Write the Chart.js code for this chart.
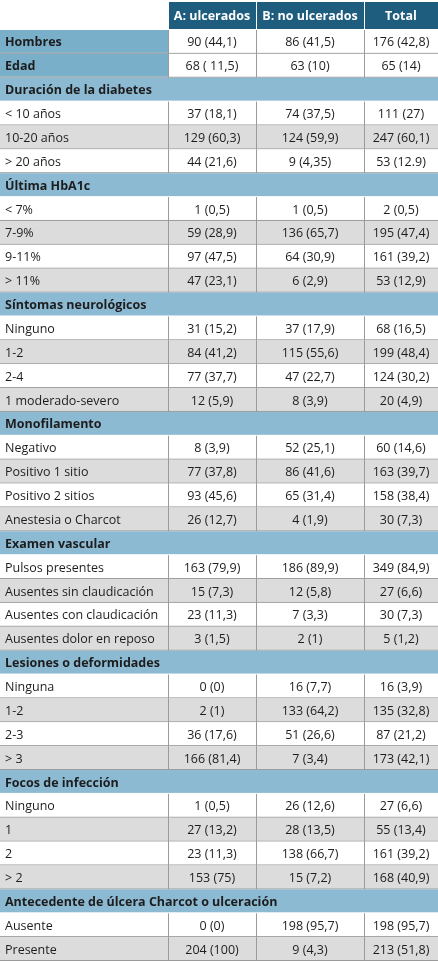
<!DOCTYPE html>
<html><head><meta charset="utf-8">
<script src="https://cdn.jsdelivr.net/npm/chart.js@4"></script>
<style>html,body{margin:0;padding:0;background:#fff}#wrap{width:438px;height:961px}</style>
</head><body><div id="wrap"><canvas id="tabla"></canvas></div>
<script>
// en-têtes de colonnes
const columnas = ["A: ulcerados", "B: no ulcerados", "Total"];
// libellés des lignes ("s" = section, "h" = ligne simple en gras)
const filas = ["Hombres", "Edad", "Duración de la diabetes", "< 10 años", "10-20 años", "> 20 años",
  "Última HbA1c", "< 7%", "7-9%", "9-11%", "> 11%",
  "Síntomas neurológicos", "Ninguno", "1-2", "2-4", "1 moderado-severo",
  "Monofilamento", "Negativo", "Positivo 1 sitio", "Positivo 2 sitios", "Anestesia o Charcot",
  "Examen vascular", "Pulsos presentes", "Ausentes sin claudicación", "Ausentes con claudicación", "Ausentes dolor en reposo",
  "Lesiones o deformidades", "Ninguna", "1-2", "2-3", "> 3",
  "Focos de infección", "Ninguno", "1", "2", "> 2",
  "Antecedente de úlcera Charcot o ulceración", "Ausente", "Presente"];
const tipos = ["h", "h", "s", "", "", "", "s", "", "", "", "", "s", "", "", "", "", "s", "", "", "", "",
  "s", "", "", "", "", "s", "", "", "", "", "s", "", "", "", "", "s", "", ""];
const valoresA = ["90 (44,1)", "68 ( 11,5)", "", "37 (18,1)", "129 (60,3)", "44 (21,6)", "", "1 (0,5)", "59 (28,9)", "97 (47,5)", "47 (23,1)",
  "", "31 (15,2)", "84 (41,2)", "77 (37,7)", "12 (5,9)", "", "8 (3,9)", "77 (37,8)", "93 (45,6)", "26 (12,7)",
  "", "163 (79,9)", "15 (7,3)", "23 (11,3)", "3 (1,5)", "", "0 (0)", "2 (1)", "36 (17,6)", "166 (81,4)",
  "", "1 (0,5)", "27 (13,2)", "23 (11,3)", "153 (75)", "", "0 (0)", "204 (100)"];
const valoresB = ["86 (41,5)", "63 (10)", "", "74 (37,5)", "124 (59,9)", "9 (4,35)", "", "1 (0,5)", "136 (65,7)", "64 (30,9)", "6 (2,9)",
  "", "37 (17,9)", "115 (55,6)", "47 (22,7)", "8 (3,9)", "", "52 (25,1)", "86 (41,6)", "65 (31,4)", "4 (1,9)",
  "", "186 (89,9)", "12 (5,8)", "7 (3,3)", "2 (1)", "", "16 (7,7)", "133 (64,2)", "51 (26,6)", "7 (3,4)",
  "", "26 (12,6)", "28 (13,5)", "138 (66,7)", "15 (7,2)", "", "198 (95,7)", "9 (4,3)"];
const valoresTotal = ["176 (42,8)", "65 (14)", "", "111 (27)", "247 (60,1)", "53 (12.9)", "", "2 (0,5)", "195 (47,4)", "161 (39,2)", "53 (12,9)",
  "", "68 (16,5)", "199 (48,4)", "124 (30,2)", "20 (4,9)", "", "60 (14,6)", "163 (39,7)", "158 (38,4)", "30 (7,3)",
  "", "349 (84,9)", "27 (6,6)", "30 (7,3)", "5 (1,2)", "", "16 (3,9)", "135 (32,8)", "87 (21,2)", "173 (42,1)",
  "", "27 (6,6)", "55 (13,4)", "161 (39,2)", "168 (40,9)", "", "198 (95,7)", "213 (51,8)"];
// bords des colonnes, en unités de l'axe x
const bordes = [0, 168, 256, 364, 438];

const dibujarTabla = {
  id: "tabla",
  afterDraw(chart) {
    const ctx = chart.ctx, x = chart.scales.x, y = chart.scales.y;
    const px = v => x.getPixelForValue(v);
    const cab = 30, alto = (961 - cab) / filas.length;
    const py = v => y.getPixelForValue(v);
    ctx.save();
    ctx.textBaseline = "middle";
    // en-tête
    for (let c = 0; c < 3; c++) {
      ctx.fillStyle = "#1e5d7e";
      ctx.fillRect(px(bordes[c + 1]) + 1, py(0) + 2, px(bordes[c + 2]) - px(bordes[c + 1]) - 1, py(cab) - py(0) - 3);
      ctx.fillStyle = "#fff";
      ctx.font = "bold 12.5px 'Open Sans'";
      ctx.textAlign = "center";
      ctx.fillText(columnas[c], (px(bordes[c + 1]) + px(bordes[c + 2])) / 2, py(cab / 2) + 1);
    }
    let alterna = 0;
    for (let i = 0; i < filas.length; i++) {
      const y0 = py(cab + i * alto), y1 = py(cab + (i + 1) * alto), ym = (y0 + y1) / 2 + 1;
      const t = tipos[i];
      if (t === "s") {
        ctx.fillStyle = "#8dbad3";
        ctx.fillRect(px(0), y0, px(438) - px(0), y1 - y0 - 1);
        ctx.fillStyle = "#1d1d1d";
        ctx.font = "bold 12.5px 'Open Sans'";
        ctx.textAlign = "left";
        ctx.fillText(filas[i], px(0) + 5, ym);
        alterna = 0;
        continue;
      }
      const fondo = t === "h" ? "#fff" : (alterna++ % 2 ? "#dcdcdc" : "#fff");
      ctx.fillStyle = t === "h" ? "#7aafca" : fondo;
      ctx.fillRect(px(0), y0, px(bordes[1]) - px(0), y1 - y0 - 1);
      ctx.fillStyle = fondo;
      for (let c = 1; c < 4; c++) ctx.fillRect(px(bordes[c]) + 1, y0, px(bordes[c + 1]) - px(bordes[c]) - 1, y1 - y0 - 1);
      // traits de séparation
      ctx.fillStyle = "#9a9a9a";
      ctx.fillRect(px(0), y1 - 1, px(438) - px(0), 1);
      for (let c = 1; c < 4; c++) ctx.fillRect(px(bordes[c]), y0, 1, y1 - y0);
      ctx.fillStyle = "#1d1d1d";
      ctx.font = (t === "h" ? "bold " : "") + "12.5px 'Open Sans'";
      ctx.textAlign = "left";
      ctx.fillText(filas[i], px(0) + 5, ym);
      ctx.font = "12.5px 'Open Sans'";
      ctx.textAlign = "center";
      const vals = [valoresA[i], valoresB[i], valoresTotal[i]];
      for (let c = 0; c < 3; c++) ctx.fillText(vals[c], (px(bordes[c + 1]) + px(bordes[c + 2])) / 2, ym);
    }
    ctx.restore();
  }
};

new Chart(document.querySelector("#tabla"), {
  type: "scatter",
  data: { datasets: [{ data: [] }] },
  options: {
    responsive: true, maintainAspectRatio: false, animation: false,
    layout: { padding: 0 },
    plugins: { legend: { display: false }, tooltip: { enabled: false } },
    scales: {
      x: { type: "linear", min: 0, max: 438, display: false },
      y: { type: "linear", min: 0, max: 961, reverse: true, display: false }
    }
  },
  plugins: [dibujarTabla]
});
</script></body></html>
